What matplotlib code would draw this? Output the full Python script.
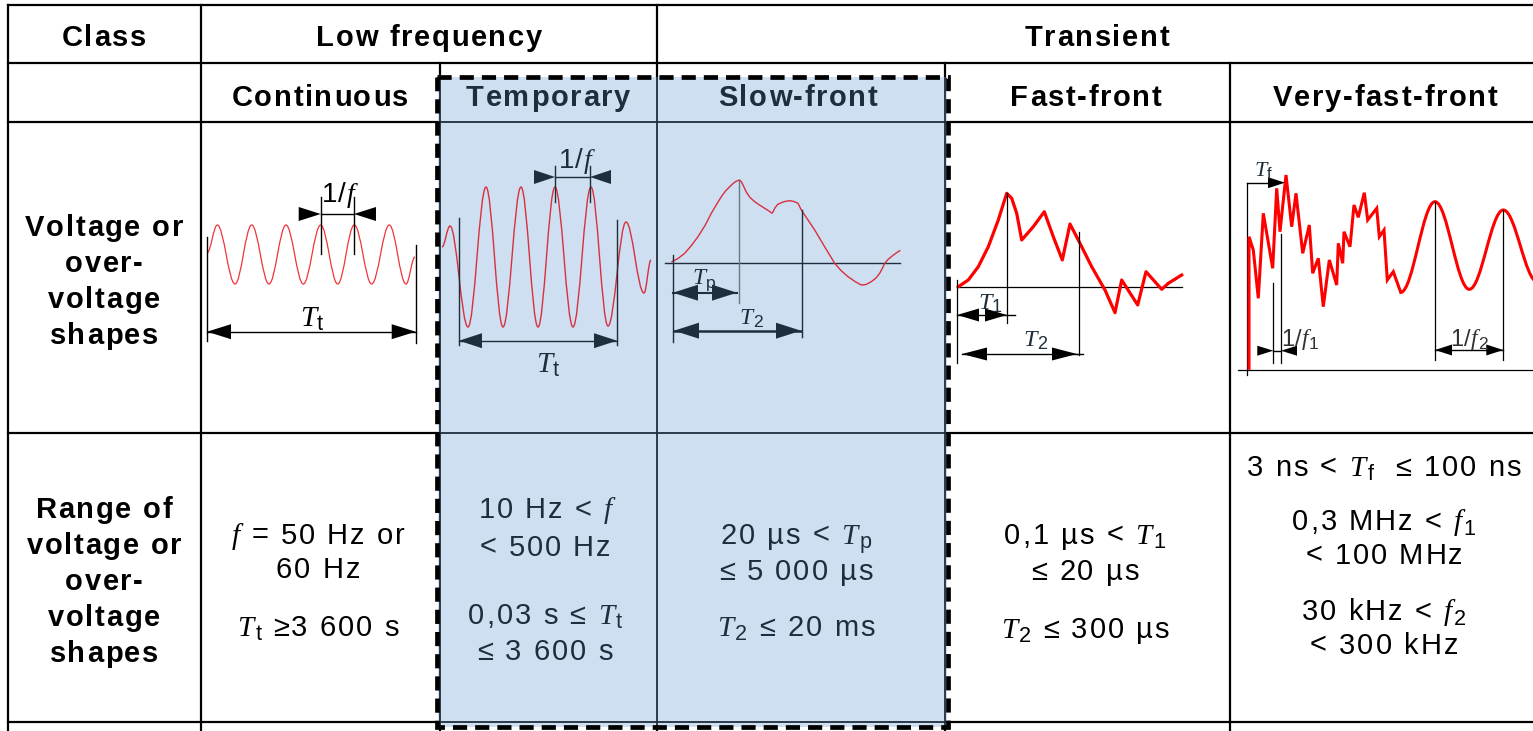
import matplotlib
matplotlib.use("Agg")
import matplotlib.pyplot as plt
from matplotlib.font_manager import FontProperties, findfont
from matplotlib.ft2font import FT2Font
from matplotlib.patches import Rectangle, PathPatch
from matplotlib.path import Path

W, H, DPI = 1533, 731, 100

# ---- table text ----
class_labels = ["Class", "Low frequency", "Transient"]
subclass_labels = ["Continuous", "Temporary", "Slow-front", "Fast-front", "Very-fast-front"]
shape_label = ["Voltage or", "over-", "voltage", "shapes"]
range_label = ["Range of", "voltage or", "over-", "voltage", "shapes"]

# each line is a list of (text, kind): n = sans, i = serif italic, sub = subscript
range_lines = [
    [[("f", "i"), (" = 50 Hz or", "n")],
     [("60 Hz", "n")],
     [("T", "i"), ("t", "sub"), (" ≥3 600 s", "n")]],
    [[("10 Hz < ", "n"), ("f", "i")],
     [("< 500 Hz", "n")],
     [("0,03 s ≤ ", "n"), ("T", "i"), ("t", "sub")],
     [("≤ 3 600 s", "n")]],
    [[("20 µs < ", "n"), ("T", "i"), ("p", "sub")],
     [("≤ 5 000 µs", "n")],
     [("T", "i"), ("2", "sub"), (" ≤ 20 ms", "n")]],
    [[("0,1 µs < ", "n"), ("T", "i"), ("1", "sub")],
     [("≤ 20 µs", "n")],
     [("T", "i"), ("2", "sub"), (" ≤ 300 µs", "n")]],
    [[("3 ns < ", "n"), ("T", "i"), ("f", "sub"), ("  ≤ 100 ns", "n")],
     [("0,3 MHz < ", "n"), ("f", "i"), ("1", "sub")],
     [("< 100 MHz", "n")],
     [("30 kHz < ", "n"), ("f", "i"), ("2", "sub")],
     [("< 300 kHz", "n")]],
]

# ---- waveform shapes (pixel units) ----
# continuous: extrema of the sine
cont_x = [207, 217.3, 235, 251.7, 269, 286, 303.3, 320.7, 337.7, 354.3, 371.7, 389.3, 406, 415]
cont_y = [253, 225, 284, 225, 284, 225, 284, 225, 284, 225, 284, 225, 284, 257]
# temporary: extrema of the swollen sine
temp_x = [442, 450, 468, 486, 503, 521, 538, 555, 573, 591, 608, 626, 644, 651]
temp_y = [247, 226, 327, 187, 327, 187, 327, 187, 327, 187, 326, 222, 293, 260]
# slow-front
slow_x = [672, 678, 684.7, 691, 698, 705, 711.3, 716.5, 721.3, 725.5, 729.7, 733, 736, 739.7,
          741.5, 743, 746.3, 750, 754.7, 759.5, 764.7, 769, 772, 773.5, 774.7, 777.5, 781.3,
          785.5, 789.7, 794, 798, 801.3, 808, 814.7, 824.5, 834.7, 841, 848, 855, 861.3, 866,
          871.3, 876, 879.7, 882.5, 884.7, 888, 891.3, 895.5, 899.7]
slow_y = [261.7, 258.5, 253.3, 246, 236.7, 225.5, 213.3, 204.5, 196.7, 191, 186.7, 183.5, 181.3, 180,
          182, 185, 192, 197.5, 201.7, 205, 208.3, 211, 213.3, 211, 208.3, 204.5, 202.7,
          201.3, 200.7, 201.5, 203.3, 210, 220, 230, 246.5, 263.3, 270.5, 276.7, 281.5, 285, 284.5,
          281.7, 278, 273.3, 268, 263.3, 259.5, 256.7, 253.5, 250.7]
# fast-front
fast_x = [958.3, 968.3, 978.3, 988.3, 998.3, 1006.7, 1011.7, 1016.7, 1021.7, 1033.3, 1044.3, 1053.3,
          1062.3, 1070, 1078.3, 1091.7, 1105, 1115, 1121.7, 1137.7, 1146, 1161.7, 1168.3, 1181.7]
fast_y = [286.7, 280, 266.7, 246.7, 220, 193.3, 198.3, 213.3, 240, 226.7, 211.7, 236.7,
          260, 224, 240, 266.7, 290, 312.7, 280, 305, 271.7, 289.3, 283.3, 275]
# very-fast-front: jagged head, then smooth oscillation extrema
vf_x = [1249, 1249, 1253.3, 1258.3, 1263.3, 1272.7, 1276.7, 1280, 1286, 1291.7, 1296, 1302.7,
        1309.3, 1312.7, 1318.3, 1323.3, 1329.3, 1336.7, 1338.3, 1342.7, 1344, 1350, 1354, 1358.3,
        1364.3, 1367.7, 1376.7, 1379.3, 1384, 1387.3, 1393.3, 1400.7]
vf_y = [368.3, 236.7, 250, 298.3, 213.3, 268.3, 188.3, 231.7, 175, 226.7, 193.3, 253.3,
        225, 273.3, 258.3, 306.7, 260, 285, 243.3, 263.3, 231.7, 246.7, 205, 217.3,
        192.7, 220, 208.3, 236.7, 230, 280, 271.7, 292.3]
vf_tail_x = [1400.7, 1435, 1469.3, 1503.3, 1537.5]
vf_tail_y = [292.3, 201.7, 289.3, 210, 282]

INK = "black"
NAVY = "#1f2e3c"
BLUE = "#cddff0"
RED_THIN = "#f0343a"
RED_BLUE = "#d8303e"
RED = "#ff0000"
BIG = 21

_fonts = {}


def get_font(kind, bold):
    key = (kind, bold)
    if key not in _fonts:
        if kind == "i":
            fp = FontProperties(family="Liberation Serif", style="italic")
        else:
            fp = FontProperties(family="Liberation Sans", weight="bold" if bold else "normal")
        _fonts[key] = (fp, FT2Font(findfont(fp)))
    return _fonts[key]


def rich(ax, cx, cy, parts, size=BIG, color=INK, sp=2.0, bold=False):
    # draws letter-spaced text char by char, centred on (cx, cy)
    px = size * DPI / 72
    glyphs = []
    for s, kind in parts:
        fp, ft = get_font(kind, bold)
        sz = size * 0.74 if kind == "sub" else size
        dy = px * 0.14 if kind == "sub" else 0
        ft.set_size(sz, DPI)
        prop = fp.copy()
        prop.set_size(sz)
        for ch in s:
            adv = ft.load_char(ord(ch)).linearHoriAdvance / 65536
            glyphs.append((ch, prop, dy, adv))
    total = sum(g[3] for g in glyphs) + sp * (len(glyphs) - 1)
    x = cx - total / 2
    base = cy + 0.36 * px
    for ch, prop, dy, adv in glyphs:
        ax.text(x, base + dy, ch, fontproperties=prop, color=color,
                ha="left", va="baseline", zorder=7)
        x += adv + sp


def smooth_path(xs, ys):
    verts = [(xs[0], ys[0])]
    codes = [Path.MOVETO]
    for x0, y0, x1, y1 in zip(xs[:-1], ys[:-1], xs[1:], ys[1:]):
        k = 0.3634 * (x1 - x0)
        verts += [(x0 + k, y0), (x1 - k, y1), (x1, y1)]
        codes += [Path.CURVE4] * 3
    return Path(verts, codes)


def head(ax, tip, y, direction, length, half, color):
    bx = tip - direction * length
    ax.fill([tip, bx, bx], [y, y - half, y + half], color=color, lw=0, zorder=6)


def dim_out(ax, x0, x1, y, length, half, color, lw=1.0):
    ax.plot([x0, x1], [y, y], color=color, lw=lw, zorder=5)
    head(ax, x0, y, -1, length, half, color)
    head(ax, x1, y, 1, length, half, color)


def dim_in(ax, x0, x1, y, length, half, color, lw=1.0):
    ax.plot([x0, x1], [y, y], color=color, lw=lw, zorder=5)
    head(ax, x0, y, 1, length, half, color)
    head(ax, x1, y, -1, length, half, color)


def vline(ax, x, y0, y1, color, lw=1.0):
    ax.plot([x, x], [y0, y1], color=color, lw=lw, zorder=5)


fig = plt.figure(figsize=(W / DPI, H / DPI), dpi=DPI)
ax = fig.add_axes([0, 0, 1, 1])
ax.set_xlim(0, W)
ax.set_ylim(H, 0)
ax.axis("off")

# ---- grid ----
h_lines = [(5, 8, W), (63, 8, W), (122, 8, W), (433, 8, W), (722, 8, W)]
v_lines = [(8, 5, H), (201, 5, H), (657, 5, H), (440, 63, H), (945, 63, H), (1230, 63, H)]

shade = Rectangle((438, 77), 509, 650, facecolor=BLUE, edgecolor="none", zorder=2)
ax.add_patch(shade)
segs = [([x0, x1], [y, y]) for y, x0, x1 in h_lines] + [([x, x], [y0, y1]) for x, y0, y1 in v_lines]
for xs, ys in segs:
    ax.plot(xs, ys, color=INK, lw=1.6, zorder=1)
    ln, = ax.plot(xs, ys, color=NAVY, lw=1.3, zorder=3)
    ln.set_clip_path(shade)

ax.add_patch(Rectangle((437, 77), 511, 650, fill=False, edgecolor=INK, lw=3.4,
                       linestyle=(0, (3, 1.7)), zorder=8))

# ---- headers ----
for label, cx in zip(class_labels, [104, 429, 1097]):
    rich(ax, cx, 36, [(label, "n")], bold=True, sp=1.7)
sub_cx = [320, 548, 798, 1086, 1385]
for label, cx in zip(subclass_labels, sub_cx):
    col = NAVY if 440 < cx < 945 else INK
    rich(ax, cx, 95, [(label, "n")], bold=True, sp=1.7, color=col)

for i, line in enumerate(shape_label):
    rich(ax, 104, 225 + 36 * i, [(line, "n")], bold=True, sp=1.7)
for i, line in enumerate(range_label):
    rich(ax, 104, 507 + 36 * i, [(line, "n")], bold=True, sp=1.7)

# ---- range row ----
range_cx = [318, 545, 796, 1085, 1384]
range_y = [[533, 567, 625], [508, 545, 613, 650], [533, 570, 625], [533, 570, 627],
           [465, 520, 553, 610, 643]]
for cx, lines, ys in zip(range_cx, range_lines, range_y):
    col = NAVY if 440 < cx < 945 else INK
    for parts, y in zip(lines, ys):
        rich(ax, cx, y, parts, color=col, sp=2.0)

# ---- continuous ----
ax.add_patch(PathPatch(smooth_path(cont_x, cont_y), fill=False, edgecolor=RED_THIN, lw=0.9, zorder=4))
vline(ax, 207, 237, 341, INK)
vline(ax, 415.7, 245, 343, INK)
dim_out(ax, 207, 415.7, 331.7, 24, 7.5, INK)
rich(ax, 311, 315, [("T", "i"), ("t", "sub")], size=21, sp=0.5)
vline(ax, 320.7, 197, 254, INK)
vline(ax, 354, 197, 254, INK)
dim_in(ax, 320.7, 354, 214, 22, 7, INK)
rich(ax, 338, 192, [("1/", "n"), ("f", "i")], size=20, sp=1.0)

# ---- temporary ----
ax.add_patch(PathPatch(smooth_path(temp_x, temp_y), fill=False, edgecolor=RED_BLUE, lw=1.0, zorder=4))
vline(ax, 459, 218, 345, NAVY)
vline(ax, 617, 220, 345, NAVY)
dim_out(ax, 459, 617, 340.7, 23, 7.5, NAVY)
rich(ax, 547, 361, [("T", "i"), ("t", "sub")], size=21, sp=0.5, color=NAVY)
vline(ax, 555, 166, 202, NAVY)
vline(ax, 590, 166, 202, NAVY)
dim_in(ax, 555, 590, 177, 21, 7, NAVY)
rich(ax, 575, 158, [("1/", "n"), ("f", "i")], size=20, sp=1.0, color=NAVY)

# ---- slow-front ----
ax.plot([665, 900], [263, 263], color=NAVY, lw=1.0, zorder=4)
ax.plot(slow_x, slow_y, color=RED_BLUE, lw=1.0, zorder=5)
vline(ax, 673, 255, 342, NAVY)
vline(ax, 738.5, 181, 303, "#6c7a88")
vline(ax, 802, 210, 337, NAVY)
dim_out(ax, 673, 737, 292.7, 25, 8, NAVY, lw=1.5)
rich(ax, 704, 276, [("T", "i"), ("p", "sub")], size=17, sp=0.3, color=NAVY)
dim_out(ax, 674, 801, 330.7, 25, 8, NAVY, lw=1.8)
rich(ax, 751, 315, [("T", "i"), ("2", "sub")], size=17, sp=0.3, color=NAVY)

# ---- fast-front ----
ax.plot([957, 1182], [287.3, 287.3], color=INK, lw=0.9, zorder=4)
ax.plot(fast_x, fast_y, color=RED, lw=2.3, zorder=5, solid_joinstyle="round")
vline(ax, 956.7, 280, 363, INK, lw=0.9)
vline(ax, 1006.7, 193, 323, INK, lw=0.9)
vline(ax, 1079, 232, 355, INK, lw=0.9)
dim_out(ax, 957, 1007, 315, 22, 6.5, INK)
ax.plot([1007, 1015], [315, 315], color=INK, lw=1.0, zorder=5)
rich(ax, 990, 300, [("T", "i"), ("1", "sub")], size=17.5, sp=0.3, color=NAVY)
dim_out(ax, 962, 1077, 354, 25, 6.5, INK)
ax.plot([1077, 1083], [354, 354], color=INK, lw=1.0, zorder=5)
rich(ax, 1035, 337, [("T", "i"), ("2", "sub")], size=17.5, sp=0.3, color=NAVY)

# ---- very-fast-front ----
ax.plot([1238, W], [370, 370], color=INK, lw=0.9, zorder=4)
vline(ax, 1246.7, 183, 375, INK, lw=0.9)
ax.plot(vf_x, vf_y, color=RED, lw=2.2, zorder=5, solid_joinstyle="miter")
ax.add_patch(PathPatch(smooth_path(vf_tail_x, vf_tail_y), fill=False, edgecolor=RED, lw=2.2, zorder=5))
ax.plot([1246.7, 1270], [182.7, 182.7], color=INK, lw=1.0, zorder=6)
head(ax, 1285, 182.7, 1, 17, 5.5, INK)
rich(ax, 1263, 168, [("T", "i"), ("f", "sub")], size=16, sp=0.3, color=NAVY)
vline(ax, 1273.3, 283, 363, INK, lw=0.9)
vline(ax, 1281, 234, 363, INK, lw=0.9)
dim_in(ax, 1273.3, 1281, 350.7, 16, 5, INK)
rich(ax, 1300, 337, [("1/", "n"), ("f", "i"), ("1", "sub")], size=17, sp=0.5, color="#333333")
vline(ax, 1435, 202, 360, INK, lw=0.9)
vline(ax, 1503.3, 210, 360, INK, lw=0.9)
dim_out(ax, 1435, 1503.3, 350, 17, 5.5, INK)
rich(ax, 1469, 337, [("1/", "n"), ("f", "i"), ("2", "sub")], size=17, sp=0.5, color="#333333")

fig.savefig("out.png", dpi=DPI)
plt.close(fig)
